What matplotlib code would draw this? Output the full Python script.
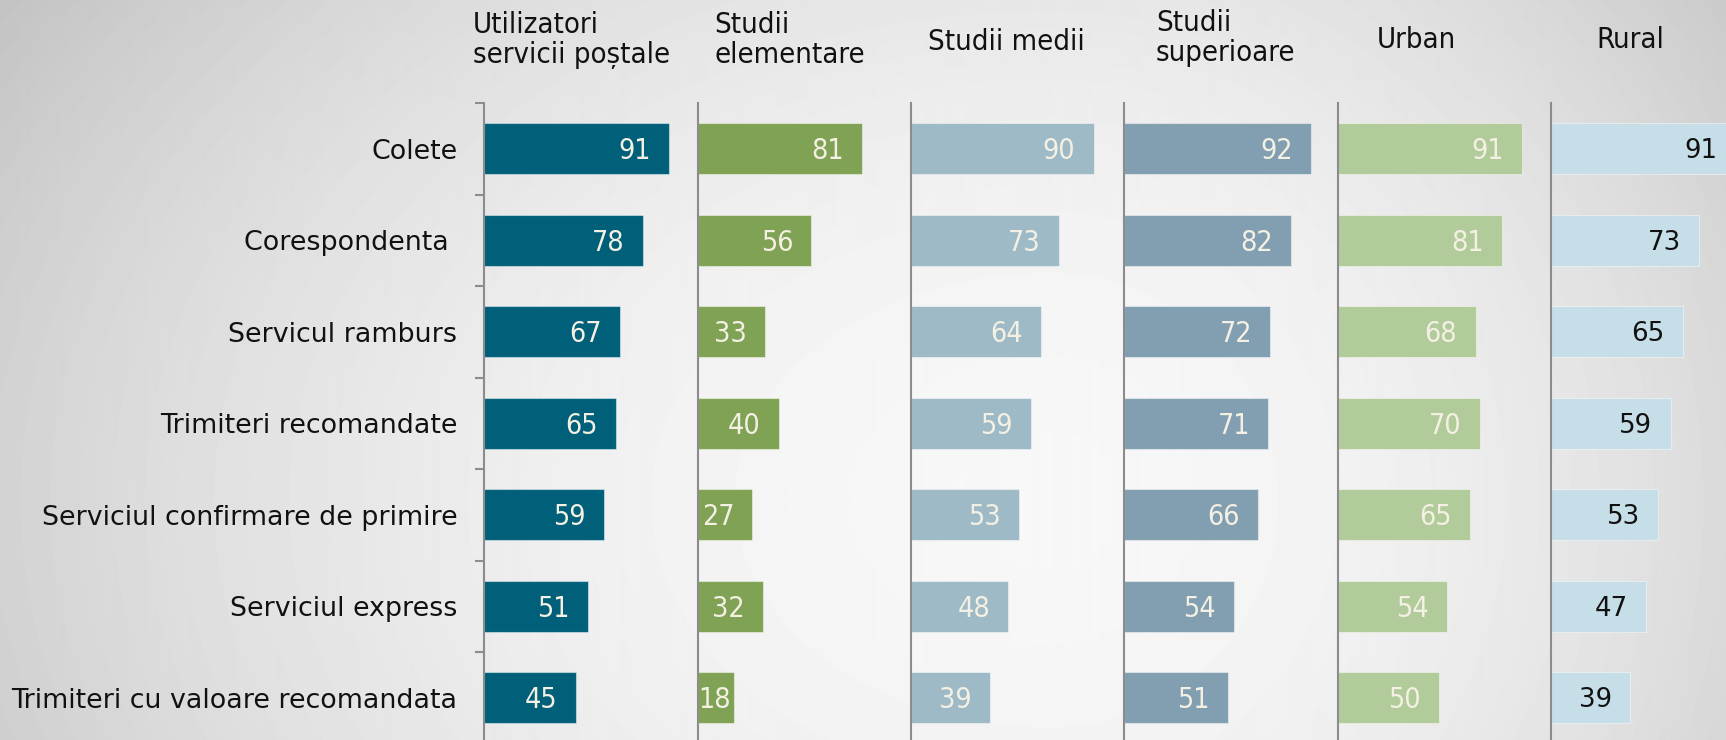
import numpy as np
import matplotlib
matplotlib.use("Agg")
import matplotlib.pyplot as plt
from matplotlib import font_manager as fm

# ---------------- data ----------------
categories = ["Colete", "Corespondenta ", "Servicul ramburs",
              "Trimiteri recomandate", "Serviciul confirmare de primire",
              "Serviciul express", "Trimiteri cu valoare recomandata"]
groups = ["Utilizatori\nservicii poștale", "Studii\nelementare", "Studii medii",
          "Studii\nsuperioare", "Urban", "Rural"]
utilizatori = [91, 78, 67, 65, 59, 51, 45]
elementare = [81, 56, 33, 40, 27, 32, 18]
medii = [90, 73, 64, 59, 53, 48, 39]
superioare = [92, 82, 72, 71, 66, 54, 51]
urban = [91, 81, 68, 70, 65, 54, 50]
rural = [91, 73, 65, 59, 53, 47, 39]
series = [utilizatori, elementare, medii, superioare, urban, rural]

bar_colors = ["#005f79", "#7fa254", "#9ebac6", "#829fb1", "#b1cb9a", "#c6dee8"]
label_colors = ["#f4f1e4", "#f4f1e4", "#f4f1e4", "#f4f1e4", "#f4f1e4", "#111111"]

# ---------------- fonts ----------------
cond_file = None
for f in fm.fontManager.ttflist:
    if "dejavusanscondensed.ttf" in f.fname.lower():
        cond_file = f.fname
        break


def cond(size):
    if cond_file:
        return dict(fontproperties=fm.FontProperties(fname=cond_file, size=size))
    return dict(family="DejaVu Sans", fontsize=size * 0.92)


W, H = 1726, 740
fig = plt.figure(figsize=(W / 100, H / 100), dpi=100)

# ---------------- background gradient ----------------
yy, xx = np.mgrid[0:H, 0:W]
cx, cy = 1050.0, 500.0
rx = np.where(xx < cx, 1000.0, 720.0)
r2 = ((xx - cx) / rx) ** 2 + ((yy - cy) / 720.0) ** 2
grad = np.clip(0.97 - 0.13 * r2, 0, 1)
bg = fig.add_axes([0, 0, 1, 1], zorder=-10)
bg.imshow(grad, cmap="gray", vmin=0, vmax=1, aspect="auto", extent=[0, 1, 0, 1])
bg.axis("off")

# ---------------- panels ----------------
axis0 = 484.3
step = 213.3
top_px, bot_px = 103.0, 743.5
n = len(categories)
y = np.arange(n)

for i, (vals, col, lcol) in enumerate(zip(series, bar_colors, label_colors)):
    left = (axis0 + i * step) / W
    ax = fig.add_axes([left, 1 - bot_px / H, step / W, (bot_px - top_px) / H])
    ax.patch.set_alpha(0)
    ax.barh(y, vals, height=0.56, color=col, edgecolor=(1, 1, 1, 0.45), linewidth=0.8)
    ax.set_xlim(0, 105)
    ax.set_ylim(n - 0.5, -0.5)
    for s in ["top", "right", "bottom"]:
        ax.spines[s].set_visible(False)
    ax.spines["left"].set_color("#8c8c8c")
    ax.spines["left"].set_linewidth(1.5)
    ax.set_xticks([])
    if i == 0:
        ax.set_yticks(y)
        ax.set_yticklabels(categories, fontsize=19.4, family="DejaVu Sans", color="#111111")
        ax.tick_params(axis="y", which="major", length=0, pad=19.5)
        ax.set_yticks(np.arange(n + 1) - 0.5, minor=True)
        ax.tick_params(axis="y", which="minor", length=6.5, width=1.5, color="#8c8c8c")
    else:
        ax.set_yticks([])
    for j, v in enumerate(vals):
        xpos = max(v - 9, 16.5)
        if i == 5:
            ax.text(xpos, j + 0.03, str(v), ha="right", va="center", fontsize=18.7,
                    family="DejaVu Sans", color=lcol, clip_on=False)
        else:
            ax.text(xpos, j + 0.03, str(v), ha="right", va="center",
                    color=lcol, clip_on=False, **cond(20.5))

# ---------------- headers ----------------
header_x = [473, 714, 928, 1156, 1377, 1596]
header_y = [40, 40, 42, 38, 40, 40]
for g, hx, hy in zip(groups, header_x, header_y):
    fig.text(hx / W, 1 - hy / H, g, ha="left", va="center",
             color="#111111", linespacing=1.1, **cond(21))

fig.savefig("out.png", dpi=100)
